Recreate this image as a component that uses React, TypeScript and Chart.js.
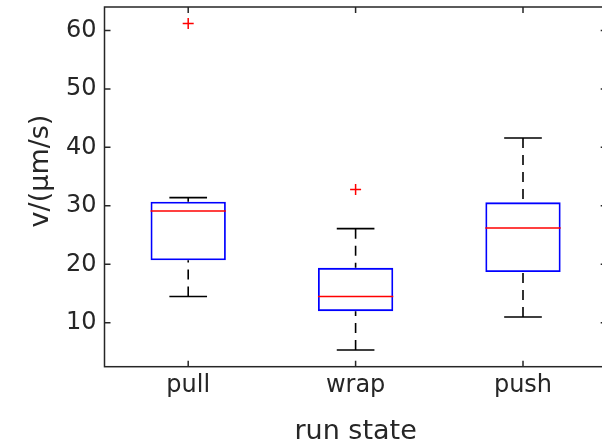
import React, { useEffect, useRef } from "react";
import { Chart, registerables } from "chart.js";

Chart.register(...registerables);

const categories = ["pull", "wrap", "push"];
const q1 = [20.7, 12.0, 18.7];
const medians = [29.1, 14.5, 26.2];
const q3 = [30.7, 19.4, 30.6];
const whiskerLow = [14.5, 5.35, 11.0];
const whiskerHigh = [31.4, 26.1, 41.6];
const outlierCategory = ["pull", "wrap"];
const outlierValues = [61.2, 32.8];
const yTicks = [10, 20, 30, 40, 50, 60];
const yMin = 2.5;
const yMax = 64;
const xTitle = "run state";
const yTitle = "v/(µm/s)";

const AXIS = "#262626";
const FONT = "'DejaVu Sans', sans-serif";

export default function App() {
  const ref = useRef<HTMLCanvasElement | null>(null);

  useEffect(() => {
    document.body.style.margin = "0";
    const canvas = ref.current!;
    const boxPlugin = {
      id: "boxparts",
      afterDatasetsDraw(chart: any) {
        const ctx = chart.ctx;
        const x = chart.scales.x;
        const y = chart.scales.y;
        const meta = chart.getDatasetMeta(0);
        ctx.save();
        categories.forEach((_, i) => {
          const bar = meta.data[i];
          const cx = x.getPixelForValue(i);
          const bw = bar ? bar.width : 75;
          const half = bw / 2;
          const capHalf = bw / 4;
          ctx.strokeStyle = "#000";
          ctx.lineWidth = 1.6;
          ctx.setLineDash([10, 7]);
          ctx.beginPath();
          ctx.moveTo(cx, y.getPixelForValue(whiskerHigh[i]));
          ctx.lineTo(cx, y.getPixelForValue(q3[i]));
          ctx.stroke();
          ctx.beginPath();
          ctx.moveTo(cx, y.getPixelForValue(whiskerLow[i]));
          ctx.lineTo(cx, y.getPixelForValue(q1[i]));
          ctx.stroke();
          ctx.setLineDash([]);
          ctx.beginPath();
          const yh = y.getPixelForValue(whiskerHigh[i]);
          const yl = y.getPixelForValue(whiskerLow[i]);
          ctx.moveTo(cx - capHalf, yh);
          ctx.lineTo(cx + capHalf, yh);
          ctx.moveTo(cx - capHalf, yl);
          ctx.lineTo(cx + capHalf, yl);
          ctx.stroke();
          ctx.strokeStyle = "#ff0000";
          ctx.lineWidth = 1.5;
          ctx.beginPath();
          const ym = y.getPixelForValue(medians[i]);
          ctx.moveTo(cx - half, ym);
          ctx.lineTo(cx + half, ym);
          ctx.stroke();
        });
        ctx.restore();
      },
      afterDraw(chart: any) {
        const ctx = chart.ctx;
        const a = chart.chartArea;
        const x = chart.scales.x;
        const y = chart.scales.y;
        ctx.save();
        ctx.strokeStyle = AXIS;
        ctx.lineWidth = 1.5;
        ctx.strokeRect(a.left, a.top, a.right - a.left, a.bottom - a.top);
        const tl = 6;
        ctx.beginPath();
        yTicks.forEach((v) => {
          const py = y.getPixelForValue(v);
          ctx.moveTo(a.left, py);
          ctx.lineTo(a.left + tl, py);
          ctx.moveTo(a.right, py);
          ctx.lineTo(a.right - tl, py);
        });
        categories.forEach((_, i) => {
          const px = x.getPixelForValue(i);
          ctx.moveTo(px, a.bottom);
          ctx.lineTo(px, a.bottom - tl);
          ctx.moveTo(px, a.top);
          ctx.lineTo(px, a.top + tl);
        });
        ctx.stroke();
        ctx.fillStyle = AXIS;
        ctx.font = `27px ${FONT}`;
        ctx.textAlign = "center";
        ctx.textBaseline = "alphabetic";
        ctx.translate(48, 171);
        ctx.rotate(-Math.PI / 2);
        ctx.fillText(yTitle, 0, 0);
        ctx.restore();
      },
    };

    const chart = new Chart(canvas, {
      type: "bar",
      data: {
        labels: categories,
        datasets: [
          {
            type: "bar",
            data: categories.map((_, i) => [q1[i], q3[i]]),
            backgroundColor: "rgba(0,0,0,0)",
            borderColor: "#0000ff",
            borderWidth: 1.8,
            borderSkipped: false,
            categoryPercentage: 1,
            barPercentage: 0.45,
          } as any,
          {
            type: "line",
            data: outlierCategory.map((c, i) => ({ x: c, y: outlierValues[i] })),
            showLine: false,
            pointStyle: "cross",
            pointRadius: 5.5,
            pointBorderColor: "#ff0000",
            pointBorderWidth: 1.5,
            borderColor: "#ff0000",
          } as any,
        ],
      },
      options: {
        animation: false,
        responsive: false,
        maintainAspectRatio: false,
        layout: { padding: { top: 6, right: 13.3, left: 0, bottom: 0 } },
        plugins: { legend: { display: false }, tooltip: { enabled: false } },
        scales: {
          x: {
            type: "category",
            offset: true,
            grid: { display: false, drawTicks: false },
            border: { display: false },
            ticks: { color: AXIS, font: { family: FONT, size: 24 }, padding: 5 },
            title: {
              display: true,
              text: xTitle,
              color: AXIS,
              font: { family: FONT, size: 27 },
              padding: { top: 0, bottom: 0 },
            },
            afterFit(scale: any) {
              scale.height = 448 - 366.7;
              scale.paddingLeft = 0;
              scale.paddingRight = 0;
            },
          },
          y: {
            type: "linear",
            min: yMin,
            max: yMax,
            grid: { display: false, drawTicks: false },
            border: { display: false },
            ticks: { color: AXIS, font: { family: FONT, size: 24 }, padding: 8 },
            afterBuildTicks(scale: any) {
              scale.ticks = yTicks.map((v) => ({ value: v }));
            },
            afterFit(scale: any) {
              scale.width = 104.5;
              scale.paddingTop = 0;
              scale.paddingBottom = 0;
            },
          },
        },
      },
      plugins: [boxPlugin],
    });
    return () => chart.destroy();
  }, []);

  return (
    <div style={{ width: 602, height: 448, overflow: "hidden", background: "#fff" }}>
      <canvas ref={ref} width={620} height={448} style={{ display: "block" }} />
    </div>
  );
}
